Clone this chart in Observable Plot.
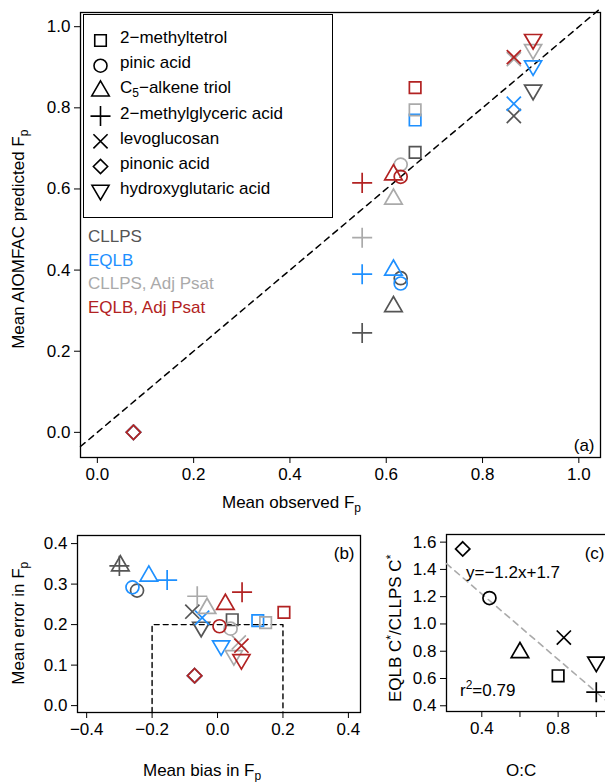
<!DOCTYPE html>
<html><head><meta charset="utf-8">
<script src="https://cdn.jsdelivr.net/npm/d3@7"></script>
<script src="https://cdn.jsdelivr.net/npm/@observablehq/plot@0.6"></script>
<style>
body{margin:0;background:#fff;font-family:"Liberation Sans",Arial,sans-serif}
#wrap{position:relative;width:605px;height:782px;overflow:hidden}
.abs{position:absolute;white-space:nowrap;font-size:17px;color:#000}
svg{position:absolute;overflow:visible}
</style></head><body>
<div id="wrap"></div>
<script>
const compounds = ["2-methyltetrol","pinic acid","C5-alkene triol","2-methylglyceric acid","levoglucosan","pinonic acid","hydroxyglutaric acid"];
const symbols = ["square","circle","triangle","plus","times","diamond","tridown"];
const models = ["CLLPS","EQLB","CLLPS, Adj Psat","EQLB, Adj Psat"];
const colors = ["#555555","#1E90FF","#AAAAAA","#B22222"];

// panel a
const obsFp = [0.66,0.63,0.615,0.55,0.865,0.075,0.905];
const predFp = [
  [0.69,0.38,0.31,0.245,0.78,0.0,0.84],
  [0.77,0.367,0.40,0.39,0.81,0.0,0.90],
  [0.795,0.66,0.575,0.48,0.92,0.0,0.94],
  [0.85,0.63,0.635,0.615,0.925,0.0,0.965]
];
// panel b
const biasFp = [
  [0.045,-0.246,-0.297,-0.30,-0.077,-0.07,-0.05],
  [0.123,-0.26,-0.21,-0.154,-0.047,-0.07,0.011],
  [0.147,0.04,-0.032,-0.062,0.065,-0.07,0.05],
  [0.203,0.006,0.024,0.075,0.073,-0.07,0.073]
];
const errorFp = [
  [0.212,0.284,0.345,0.345,0.232,0.074,0.19],
  [0.21,0.292,0.32,0.31,0.217,0.074,0.144],
  [0.205,0.19,0.24,0.27,0.156,0.074,0.12],
  [0.23,0.196,0.25,0.28,0.148,0.074,0.11]
];
const boxLimit = 0.2;
// panel c
const oc = [0.8,0.44,0.6,1.0,0.83,0.3,1.0];
const ratioC = [0.62,1.19,0.79,0.50,0.90,1.55,0.71];
const fitSlope = -1.2, fitIntercept = 1.7;

const triDown = {draw(ctx, size){const s=Math.sqrt(size/0.7)*0.62; ctx.moveTo(-s,-s*0.75); ctx.lineTo(s,-s*0.75); ctx.lineTo(0,s*0.95); ctx.closePath();}};
const diamond = {draw(ctx, size){const s=Math.sqrt(size)*0.62; ctx.moveTo(0,-s); ctx.lineTo(s,0); ctx.lineTo(0,s); ctx.lineTo(-s,0); ctx.closePath();}};
const sym = s => s === "tridown" ? triDown : s === "diamond" ? diamond : s;

const rows = [];
models.forEach((m,mi) => compounds.forEach((c,ci) => rows.push({
  m:mi, c:ci, obs:obsFp[ci], pred:predFp[mi][ci], bias:biasFp[mi][ci], err:errorFp[mi][ci]
})));
const dotsFor = (data, x, y, r) => models.map((m,mi) => symbols.map((s,si) =>
  Plot.dot(data.filter(d => d.m === mi && d.c === si), {x, y, r, symbol: sym(s), stroke: colors[mi], fill: "none", strokeWidth: 1.7})
)).flat();

const wrap = document.getElementById("wrap");
function place(el, left, top){el.style.left=left+"px"; el.style.top=top+"px"; wrap.appendChild(el); return el;}
function label(html, left, top, extra){const d=document.createElement("div"); d.className="abs"; d.innerHTML=html; if(extra) Object.assign(d.style, extra); return place(d,left,top);}

const axisStyle = {fontFamily:"Liberation Sans, Arial, sans-serif", color:"#000", background:"none", overflow:"visible"};
const minus = d => d3.format(".1f")(d).replace("-","\u2212");
const axes = (xt, yt, xf, yf) => [
  Plot.axisX({ticks:xt, tickFormat:xf || minus, fontSize:17, tickSize:6, tickPadding:4, label:null}),
  Plot.axisY({ticks:yt, tickFormat:yf || minus, fontSize:17, tickSize:6, tickPadding:4, label:null})
];
const SUB = "<sub style='font-size:12px'>p</sub>";

// ---- (a)
const aDom = [-0.035, 1.045];
const a = Plot.plot({
  width:605, height:510, marginLeft:80, marginRight:5, marginTop:12, marginBottom:53,
  style: axisStyle,
  x:{domain:aDom}, y:{domain:[-0.062,1.035]},
  marks:[
    ...axes(d3.range(0,1.01,0.2), d3.range(0,1.01,0.2)),
    Plot.frame({strokeWidth:1.3}),
    Plot.line([aDom[0],aDom[1]], {x:d=>d, y:d=>d, stroke:"#000", strokeDasharray:"6,5", strokeWidth:1.5}),
    ...dotsFor(rows, "obs", "pred", 6.5),
    Plot.text(["(a)"], {frameAnchor:"bottom-right", dx:-6, dy:-7, fontSize:17, text:d=>d})
  ]
});
place(a,0,0);
label("Mean observed F"+SUB, 222, 493);
label("Mean AIOMFAC predicted F"+SUB, -120, 228, {transform:"rotate(-90deg)", width:"280px", textAlign:"center"});

// legend
const leg = document.createElement("div");
Object.assign(leg.style,{position:"absolute",border:"1.5px solid #000",width:"248px",height:"202px",background:"#fff"});
place(leg,83,14);
const legNames = ["2\u2212methyltetrol","pinic acid","C<sub style='font-size:12px'>5</sub>\u2212alkene triol","2\u2212methylglyceric acid","levoglucosan","pinonic acid","hydroxyglutaric acid"];
const legSvg = Plot.plot({width:40,height:202,margin:0,x:{domain:[0,1],axis:null},y:{domain:[0,6],range:[38,38+6*25.2],axis:null},
  marks: symbols.map((s,i)=>Plot.dot([i],{x:()=>0.45,y:d=>d,r:6.5,symbol:sym(s),stroke:"#000",strokeWidth:1.6}))});
place(legSvg,82,2);
legNames.forEach((n,i)=>label(n,120,28+i*25.2));
models.forEach((m,i)=>label(m,88,227+i*23.5,{color:colors[i]}));

// ---- (b)
const b = Plot.plot({
  width:380, height:267, marginLeft:77, marginRight:20, marginTop:20, marginBottom:70,
  style: axisStyle,
  x:{domain:[-0.428,0.437]}, y:{domain:[-0.017,0.42]},
  marks:[
    ...axes(d3.range(-0.4,0.41,0.2), d3.range(0,0.41,0.1)),
    Plot.frame({strokeWidth:1.3}),
    Plot.line([[-boxLimit,-0.017],[-boxLimit,boxLimit],[boxLimit,boxLimit],[boxLimit,-0.017]], {stroke:"#000", strokeDasharray:"5,4", strokeWidth:1.4}),
    ...dotsFor(rows, "bias", "err", 6.5),
    Plot.text(["(b)"], {frameAnchor:"top-right", dx:-6, dy:11, fontSize:17, text:d=>d})
  ]
});
place(b,0,515);
label("Mean bias in F"+SUB, 143, 761);
label("Mean error in F"+SUB, -60, 612, {transform:"rotate(-90deg)", width:"160px", textAlign:"center"});

// ---- (c)
const cRows = oc.map((o,i)=>({c:i,oc:o,ratio:ratioC[i]}));
const cX = [0.215,1.085];
const c = Plot.plot({
  width:232, height:267, marginLeft:66, marginRight:0, marginTop:19, marginBottom:71,
  style: axisStyle,
  x:{domain:cX}, y:{domain:[0.358,1.656]},
  marks:[
    ...axes([0.4,0.6,0.8,1.0], d3.range(0.4,1.61,0.2), d=>(Math.abs(d-0.4)<1e-6||Math.abs(d-0.8)<1e-6)?d.toFixed(1):""),
    Plot.frame({strokeWidth:1.3}),
    Plot.line(cX, {x:d=>d, y:d=>fitSlope*d+fitIntercept, stroke:"#aaa", strokeDasharray:"6,5", strokeWidth:1.6}),
    ...symbols.map((s,si)=>Plot.dot(cRows.filter(d=>d.c===si),{x:"oc",y:"ratio",r:6.5,symbol:sym(s),stroke:"#000",strokeWidth:1.7})),
    Plot.text(["(c)"], {frameAnchor:"top-right", dx:-8, dy:12, fontSize:17, text:d=>d})
  ]
});
place(c,380,515);
label("y=\u22121.2x+1.7", 466, 563);
label("r<sup style='font-size:12px'>2</sup>=0.79", 460, 678);
label("O:C", 506, 761);
label("EQLB C<sup style='font-size:12px'>*</sup>/CLLPS C<sup style='font-size:12px'>*</sup>", 290, 617, {transform:"rotate(-90deg)", width:"210px", textAlign:"center"});
</script>
</body></html>
